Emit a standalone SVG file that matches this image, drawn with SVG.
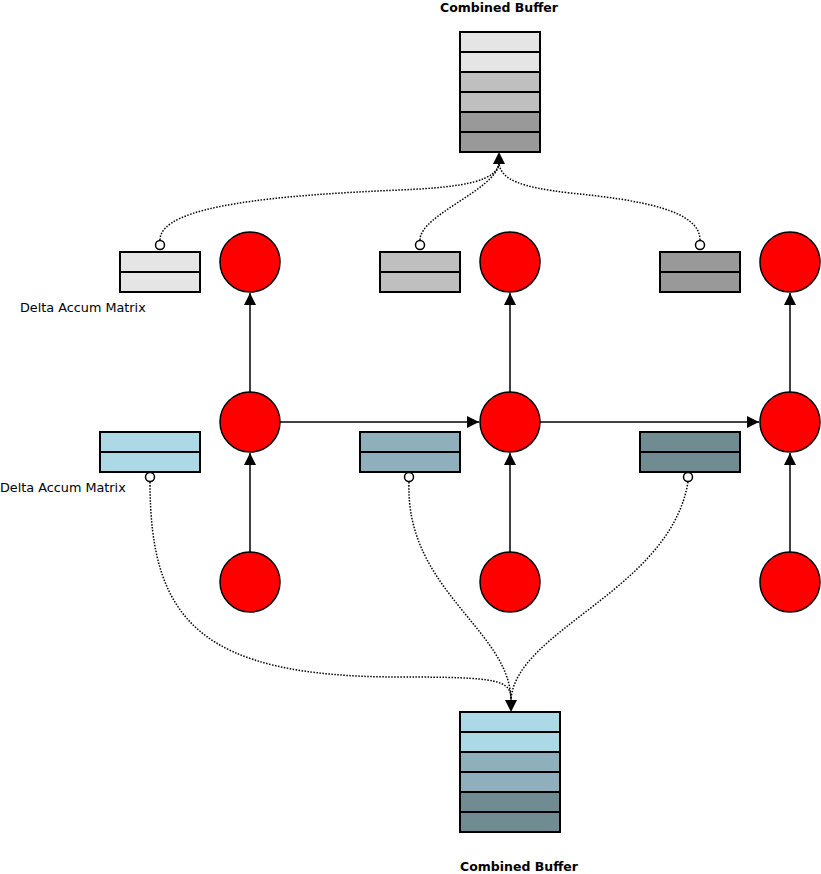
<svg xmlns="http://www.w3.org/2000/svg" width="821" height="874" viewBox="0 0 821 874">
<style>
.r{stroke:#000;stroke-width:2}
.c{fill:#f00;stroke:#000;stroke-width:1.5}
.e{fill:none;stroke:#000;stroke-width:1.5}
.d{fill:none;stroke:#000;stroke-width:1.5;stroke-dasharray:1.5 1.5}
.o{fill:#fff;stroke:#000;stroke-width:1.5}
.t{font-family:"DejaVu Sans",sans-serif;font-size:12.8px;fill:#000}
.b{font-family:"DejaVu Sans",sans-serif;font-size:12.5px;font-weight:bold;fill:#000}
</style>
<defs>
<marker id="a2" viewBox="0 0 10 10" refX="10" refY="5" markerWidth="12" markerHeight="12" markerUnits="userSpaceOnUse" orient="auto"><path d="M0,0L10,5L0,10z" fill="#000"/></marker>
</defs>
<rect width="821" height="874" fill="#fff"/>
<g id="connectors">
<path class="e" d="M250,552V453" marker-end="url(#a2)"/>
<path class="e" d="M510,552V453" marker-end="url(#a2)"/>
<path class="e" d="M790,552V453" marker-end="url(#a2)"/>
<path class="e" d="M250,392V293" marker-end="url(#a2)"/>
<path class="e" d="M510,392V293" marker-end="url(#a2)"/>
<path class="e" d="M790,392V293" marker-end="url(#a2)"/>
<path class="e" d="M280,422H479" marker-end="url(#a2)"/>
<path class="e" d="M540,422H759" marker-end="url(#a2)"/>
<path class="d" d="M160,240C160,205 280,195 400,190C470,187 495,180 499,164"/>
<path class="d" d="M420,240C420,215 495,190 499,164"/>
<path class="d" d="M700,240C700,210 640,200 570,193C520,187 502,180 499,164"/>
<path class="d" d="M150,482C150,620 200,677 400,677C500,677 511,680 511,700"/>
<path class="d" d="M409,482C405,590 510,630 511,700"/>
<path class="d" d="M688,482C670,590 515,630 511,700"/>
<path d="M493,164L499,152L505,164z" fill="#000"/>
<path d="M505,700L511,712L517,700z" fill="#000"/>
<circle class="o" cx="160" cy="245" r="4.5"/>
<circle class="o" cx="420" cy="245" r="4.5"/>
<circle class="o" cx="700" cy="245" r="4.5"/>
<circle class="o" cx="150" cy="477" r="4.5"/>
<circle class="o" cx="409" cy="477" r="4.5"/>
<circle class="o" cx="688" cy="477" r="4.5"/>
</g>
<g id="topBuffer">
<text class="b" x="499" y="12" text-anchor="middle">Combined Buffer</text>
<rect class="r" x="460" y="32" width="80" height="20" fill="#e5e5e5"/>
<rect class="r" x="460" y="52" width="80" height="20" fill="#e5e5e5"/>
<rect class="r" x="460" y="72" width="80" height="20" fill="#bfbfbf"/>
<rect class="r" x="460" y="92" width="80" height="20" fill="#bfbfbf"/>
<rect class="r" x="460" y="112" width="80" height="20" fill="#999"/>
<rect class="r" x="460" y="132" width="80" height="20" fill="#999"/>
</g>
<g id="bottomBuffer">
<rect class="r" x="460" y="712" width="100" height="20" fill="#add8e6"/>
<rect class="r" x="460" y="732" width="100" height="20" fill="#add8e6"/>
<rect class="r" x="460" y="752" width="100" height="20" fill="#8eafbb"/>
<rect class="r" x="460" y="772" width="100" height="20" fill="#8eafbb"/>
<rect class="r" x="460" y="792" width="100" height="20" fill="#718b92"/>
<rect class="r" x="460" y="812" width="100" height="20" fill="#718b92"/>
<text class="b" x="519" y="871" text-anchor="middle">Combined Buffer</text>
</g>
<g id="dm1"><rect class="r" x="120" y="252" width="80" height="20" fill="#e5e5e5"/><rect class="r" x="120" y="272" width="80" height="20" fill="#e5e5e5"/><text class="t" x="20" y="312">Delta Accum Matrix</text></g>
<g id="dm2"><rect class="r" x="380" y="252" width="80" height="20" fill="#bfbfbf"/><rect class="r" x="380" y="272" width="80" height="20" fill="#bfbfbf"/></g>
<g id="dm3"><rect class="r" x="660" y="252" width="80" height="20" fill="#999"/><rect class="r" x="660" y="272" width="80" height="20" fill="#999"/></g>
<g id="bm1"><rect class="r" x="100" y="432" width="100" height="20" fill="#add8e6"/><rect class="r" x="100" y="452" width="100" height="20" fill="#add8e6"/><text class="t" x="0" y="492">Delta Accum Matrix</text></g>
<g id="bm2"><rect class="r" x="360" y="432" width="100" height="20" fill="#8eafbb"/><rect class="r" x="360" y="452" width="100" height="20" fill="#8eafbb"/></g>
<g id="bm3"><rect class="r" x="640" y="432" width="100" height="20" fill="#718b92"/><rect class="r" x="640" y="452" width="100" height="20" fill="#718b92"/></g>
<g id="n11"><circle class="c" cx="250" cy="262" r="30"/></g>
<g id="n12"><circle class="c" cx="510" cy="262" r="30"/></g>
<g id="n13"><circle class="c" cx="790" cy="262" r="30"/></g>
<g id="n21"><circle class="c" cx="250" cy="422" r="30"/></g>
<g id="n22"><circle class="c" cx="510" cy="422" r="30"/></g>
<g id="n23"><circle class="c" cx="790" cy="422" r="30"/></g>
<g id="n31"><circle class="c" cx="250" cy="582" r="30"/></g>
<g id="n32"><circle class="c" cx="510" cy="582" r="30"/></g>
<g id="n33"><circle class="c" cx="790" cy="582" r="30"/></g>
</svg>
